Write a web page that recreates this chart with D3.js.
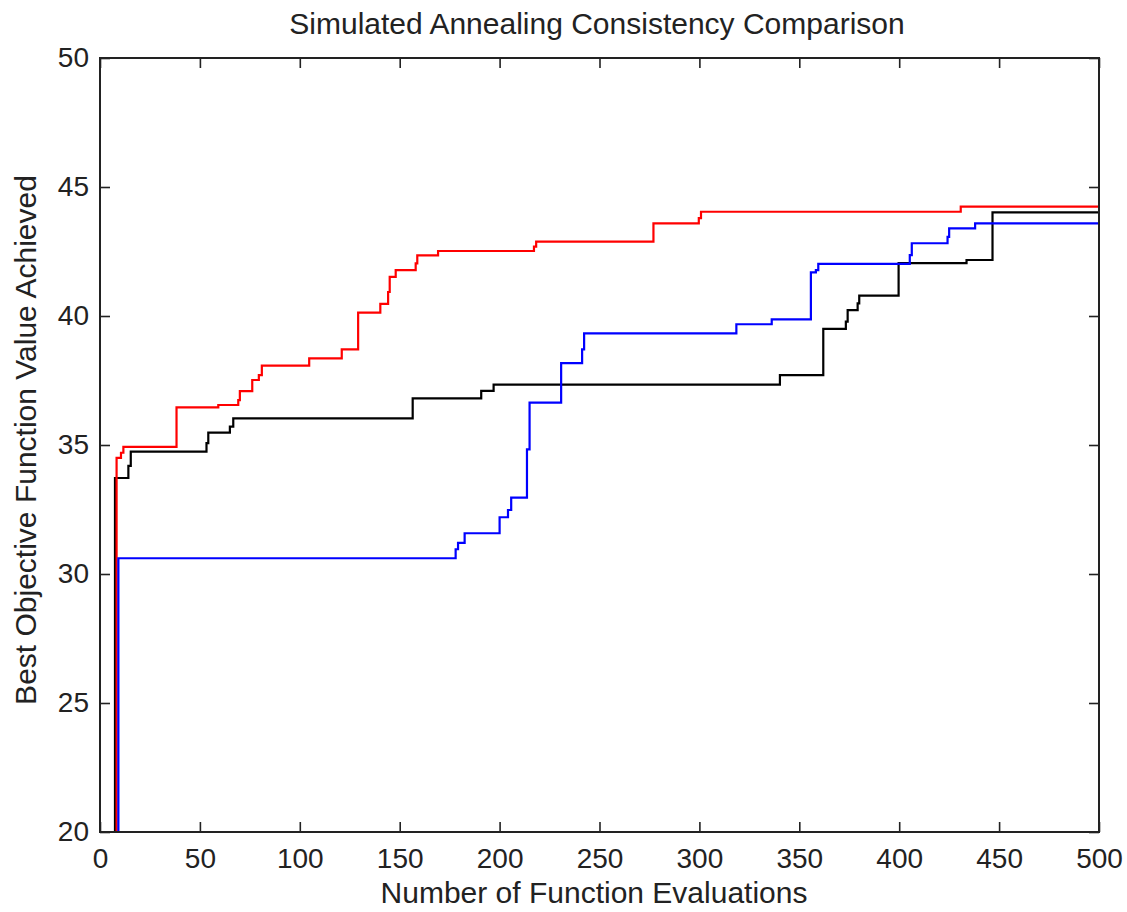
<!DOCTYPE html>
<html>
<head>
<meta charset="utf-8">
<script src="https://cdn.jsdelivr.net/npm/d3@7.9.0/dist/d3.min.js"></script>
<style>
  html, body { margin: 0; padding: 0; background: #fff; }
  svg { display: block; }
  text { font-family: "Liberation Sans", Arial, sans-serif; fill: #222; }
</style>
</head>
<body>
<svg id="chart" width="1127" height="912"></svg>
<script>
// step points: evaluation count where the best value changes, and the new best value
const blackEvals = [7.5, 7.5, 14.2, 15.4, 53.3, 54.2, 65, 66.7, 156.5, 190.8, 197, 340.3, 362, 373.3, 374.2, 379.2, 380, 399.7, 433.7, 446.7, 500];
const blackValues = [10, 33.72, 34.19, 34.74, 35.07, 35.48, 35.71, 36.03, 36.81, 37.1, 37.34, 37.71, 39.5, 39.78, 40.23, 40.49, 40.79, 42.05, 42.17, 44.02, 44.02];

const redEvals = [8.3, 8.3, 10.5, 11.7, 38.3, 59.2, 69.2, 70, 76.2, 79.5, 81, 104.7, 121, 129.2, 140.3, 144.2, 145, 148, 158, 158.8, 169.2, 217.2, 218.3, 277, 299.7, 300.8, 430.8, 500];
const redValues = [10, 34.5, 34.7, 34.93, 36.46, 36.55, 36.74, 37.09, 37.52, 37.71, 38.08, 38.36, 38.71, 40.13, 40.47, 40.93, 41.52, 41.78, 42.04, 42.35, 42.52, 42.69, 42.88, 43.59, 43.79, 44.04, 44.24, 44.24];

const blueEvals = [9.2, 9.2, 178, 179.2, 182.5, 200, 204.2, 205.8, 213.7, 215, 230.8, 241.3, 242.3, 318.5, 336.2, 355.8, 358.3, 359.5, 405.3, 406.3, 424.2, 425, 438, 500];
const blueValues = [10, 30.61, 30.96, 31.21, 31.58, 32.2, 32.48, 32.96, 34.83, 36.64, 38.17, 38.71, 39.33, 39.68, 39.87, 41.69, 41.78, 42.02, 42.36, 42.82, 43.07, 43.4, 43.59, 43.59];

const xTicks = [0, 50, 100, 150, 200, 250, 300, 350, 400, 450, 500];
const yTicks = [20, 25, 30, 35, 40, 45, 50];

const titleText = 'Simulated Annealing Consistency Comparison';
const xLabel = 'Number of Function Evaluations';
const yLabel = 'Best Objective Function Value Achieved';

const margin = { left: 100, top: 58 };
const width = 999;
const height = 774;

const svg = d3.select('#chart');
const g = svg.append('g').attr('transform', `translate(${margin.left},${margin.top})`);

const x = d3.scaleLinear().domain([0, 500]).range([0, width]);
const y = d3.scaleLinear().domain([20, 50]).range([height, 0]);

g.append('clipPath').attr('id', 'plot-clip')
  .append('rect').attr('width', width).attr('height', height);

const series = [
  { evals: blackEvals, values: blackValues, color: '#000000' },
  { evals: redEvals, values: redValues, color: '#ff0000' },
  { evals: blueEvals, values: blueValues, color: '#0000ff' }
];

const line = d3.line()
  .x(d => x(d[0]))
  .y(d => y(d[1]))
  .curve(d3.curveStepAfter);

const lines = g.append('g').attr('clip-path', 'url(#plot-clip)');
series.forEach(s => {
  lines.append('path')
    .attr('d', line(d3.zip(s.evals, s.values)))
    .attr('fill', 'none')
    .attr('stroke', s.color)
    .attr('stroke-width', 2.2);
});

// axes (box style, inward ticks)
const tickStyle = sel => {
  sel.select('.domain').remove();
  sel.selectAll('line').attr('stroke', '#222').attr('stroke-width', 1.6);
  sel.selectAll('text').style('font-size', '28px').attr('fill', '#222');
};

g.append('g')
  .attr('transform', `translate(0,${height})`)
  .call(d3.axisBottom(x).tickValues(xTicks).tickSizeInner(-10).tickSizeOuter(0).tickPadding(16))
  .call(tickStyle);

g.append('g')
  .call(d3.axisTop(x).tickValues(xTicks).tickSizeInner(-10).tickSizeOuter(0).tickFormat(''))
  .call(tickStyle);

g.append('g')
  .call(d3.axisLeft(y).tickValues(yTicks).tickSizeInner(-10).tickSizeOuter(0).tickPadding(11))
  .call(tickStyle);

g.append('g')
  .attr('transform', `translate(${width},0)`)
  .call(d3.axisRight(y).tickValues(yTicks).tickSizeInner(-10).tickSizeOuter(0).tickFormat(''))
  .call(tickStyle);

g.append('rect')
  .attr('width', width).attr('height', height)
  .attr('fill', 'none').attr('stroke', '#222').attr('stroke-width', 2);

svg.append('text')
  .attr('x', 597).attr('y', 34)
  .attr('text-anchor', 'middle')
  .style('font-size', '30px')
  .text(titleText);

svg.append('text')
  .attr('x', 594).attr('y', 903)
  .attr('text-anchor', 'middle')
  .style('font-size', '30px')
  .text(xLabel);

svg.append('text')
  .attr('transform', 'translate(36,440) rotate(-90)')
  .attr('text-anchor', 'middle')
  .style('font-size', '30px')
  .text(yLabel);
</script>
</body>
</html>
